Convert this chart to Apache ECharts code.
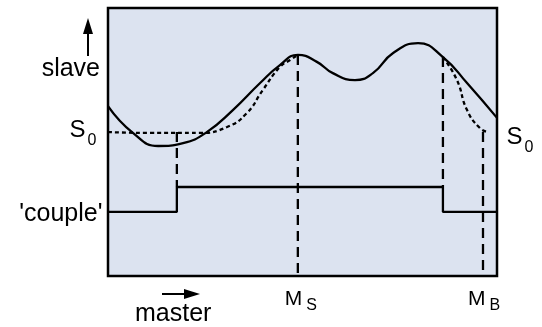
<!DOCTYPE html>
<html>
<head>
<meta charset="utf-8">
<script src="https://cdn.jsdelivr.net/npm/echarts@6/dist/echarts.min.js"></script>
<style>
  html, body { margin: 0; padding: 0; background: #fff; }
  #main { width: 542px; height: 327px; }
</style>
</head>
<body>
<div id="main"></div>
<script>
// master position (0..100) and slave position (0..100)
var camMaster = [0, 6.4, 12.9, 19.3, 25.4, 32.1, 39.1, 44.2, 48.8, 53.7, 57.8, 63.5, 68.1, 73.3, 79.7, 86.1, 92.3, 100];
var camSlave  = [63.4, 53.4, 48.5, 49.6, 53.7, 61.9, 72.0, 78.7, 82.5, 79.9, 75.7, 73.1, 75.7, 83.2, 86.9, 81.7, 72.0, 59.0];

// dotted: coupling in (start at S0) and decoupling back to S0
var inMaster  = [0, 10.8, 23.7, 30.6, 35.7, 39.8, 44.2, 46.8, 48.8];
var inSlave   = [53.7, 53.4, 53.4, 55.6, 60.8, 69.4, 78.0, 80.6, 82.5];
var outMaster = [86.1, 89.7, 92.3, 95.6, 97.7];
var outSlave  = [81.7, 73.1, 61.9, 55.2, 53.7];

// 'couple' signal
var coupleMaster = [0, 17.7, 17.7, 86.1, 86.1, 100];
var coupleLevel  = [23.9, 23.9, 33.2, 33.2, 23.9, 23.9];

// dashed markers: [master, from slave, to slave]
var markers = [[17.7, 53.7, 33.2], [48.8, 82.5, 0], [86.1, 81.7, 33.2], [96.4, 53.7, 0]];

var S0 = 53.7;
var MS = 48.8;
var MB = 96.4;

function pairs(xs, ys) {
    var out = [];
    for (var i = 0; i < xs.length; i++) out.push([xs[i], ys[i]]);
    return out;
}

var font = 'Liberation Sans, Arial, sans-serif';
var ink = '#000';

var series = [];

series.push({
    type: 'line', data: pairs(camMaster, camSlave), smooth: 0.5,
    symbol: 'none', lineStyle: { color: ink, width: 2.3 }, z: 5
});
series.push({
    type: 'line', data: pairs(inMaster, inSlave), smooth: 0.5,
    symbol: 'none', lineStyle: { color: ink, width: 2.3, type: [4, 3] }, z: 4
});
series.push({
    type: 'line', data: pairs(outMaster, outSlave), smooth: 0.5,
    symbol: 'none', lineStyle: { color: ink, width: 2.3, type: [4, 3] }, z: 4
});
series.push({
    type: 'line', data: pairs(coupleMaster, coupleLevel),
    symbol: 'none', lineStyle: { color: ink, width: 2.3 }, z: 5
});
markers.forEach(function(m) {
    series.push({
        type: 'line', data: [[m[0], m[1]], [m[0], m[2]]],
        symbol: 'none', lineStyle: { color: ink, width: 2.3, type: [10, 6] }, z: 3
    });
});

var subRich = {
    big: { fontSize: 24, fontFamily: font, color: ink, lineHeight: 24, verticalAlign: 'top' },
    sub: { fontSize: 16, fontFamily: font, color: ink, lineHeight: 16, padding: [15, 0, 0, 2], verticalAlign: 'top' },
    m: { fontSize: 21, fontFamily: font, color: ink, lineHeight: 21, verticalAlign: 'top' },
    ms: { fontSize: 16, fontFamily: font, color: ink, lineHeight: 16, padding: [9, 0, 0, 4], verticalAlign: 'top' }
};

function tag(x, y, text, pos, dist, offset, extra) {
    var label = {
        show: true, position: pos, distance: dist, offset: offset,
        formatter: text, rich: subRich, fontFamily: font, color: ink
    };
    if (extra) for (var k in extra) label[k] = extra[k];
    return {
        type: 'scatter', data: [[x, y]], symbolSize: 1,
        itemStyle: { color: 'rgba(0,0,0,0)', opacity: 1 }, label: label, z: 6
    };
}

series.push(tag(0, S0, '{big|S}{sub|0}', 'left', 11, [0, -2]));
series.push(tag(100, S0, '{big|S}{sub|0}', 'right', 9, [0, 5]));
series.push(tag(0, coupleLevel[0], "'couple'", 'left', 5, [0, 2], { fontSize: 25 }));
series.push(tag(MS, 0, '{m|M}{ms|S}', 'bottom', 12, [3, 0]));
series.push(tag(MB, 0, '{m|M}{ms|B}', 'bottom', 12, [1, 0]));

var chart = echarts.init(document.getElementById('main'));
chart.setOption({
    animation: false,
    grid: {
        left: 108, right: 45, top: 8, bottom: 51,
        show: true, backgroundColor: '#dce3f0', borderColor: ink, borderWidth: 2.5
    },
    xAxis: { type: 'value', min: 0, max: 100, show: false },
    yAxis: { type: 'value', min: 0, max: 100, show: false },
    series: series,
    graphic: [
        { type: 'line', shape: { x1: 88, y1: 56, x2: 88, y2: 30 }, style: { stroke: ink, lineWidth: 2 } },
        { type: 'polygon', shape: { points: [[83, 34], [93, 34], [88, 18]] }, style: { fill: ink } },
        { type: 'text', x: 100, y: 69, style: { text: 'slave', font: '25px ' + font, fill: ink, align: 'right', verticalAlign: 'middle' } },
        { type: 'line', shape: { x1: 162, y1: 294, x2: 188, y2: 294 }, style: { stroke: ink, lineWidth: 2 } },
        { type: 'polygon', shape: { points: [[184, 289], [184, 299], [200, 294]] }, style: { fill: ink } },
        { type: 'text', x: 135, y: 314, style: { text: 'master', font: '25px ' + font, fill: ink, align: 'left', verticalAlign: 'middle' } }
    ]
});
</script>
</body>
</html>
